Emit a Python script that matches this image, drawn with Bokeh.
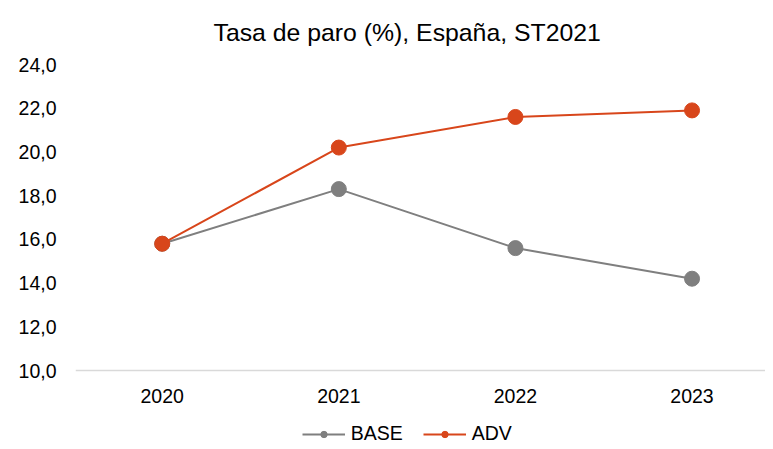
from bokeh.plotting import figure
from bokeh.models import Range1d, FixedTicker, CustomJSTickFormatter, Legend, LegendItem
from bokeh.embed import file_html
from bokeh.resources import INLINE

years = [2020, 2021, 2022, 2023]
base = [15.8, 18.3, 15.6, 14.2]
adv = [15.8, 20.2, 21.6, 21.9]
y_ticks = [10, 12, 14, 16, 18, 20, 22, 24]

GRAY = "#7F7F7F"
RED = "#D8461B"
FONT = "Liberation Sans"

# frame spans from the top border down to the canvas bottom; the x axis sits at y = 10
p = figure(width=765, height=445, output_backend="svg", toolbar_location=None,
           x_range=Range1d(2019.509, 2023.416), y_range=Range1d(6.569, 24),
           min_border_left=75, min_border_right=0, min_border_top=64, min_border_bottom=0)

p.title.text = "Tasa de paro (%), España, ST2021"
p.title.align = "left"
p.title.offset = 138
p.title.standoff = 34
p.title.vertical_align = "top"
p.title.text_font = FONT
p.title.text_font_size = "24.8px"
p.title.text_font_style = "normal"
p.title.text_color = "#000000"

p.outline_line_color = None
p.xgrid.grid_line_color = None
p.ygrid.grid_line_color = None

p.xaxis.fixed_location = 10
p.xaxis.ticker = FixedTicker(ticks=years)
p.xaxis.axis_line_color = "#D9D9D9"
p.xaxis.axis_line_width = 1.5
p.xaxis.major_tick_line_color = None
p.xaxis.minor_tick_line_color = None
p.xaxis.major_label_standoff = 12
p.xaxis.major_label_text_font = FONT
p.xaxis.major_label_text_font_size = "19.5px"
p.xaxis.major_label_text_color = "#000000"

p.yaxis.ticker = FixedTicker(ticks=y_ticks)
p.yaxis.formatter = CustomJSTickFormatter(code="return tick.toFixed(1).replace('.', ',');")
p.yaxis.axis_line_color = None
p.yaxis.major_tick_line_color = None
p.yaxis.minor_tick_line_color = None
p.yaxis.major_label_standoff = 13
p.yaxis.major_label_text_font = FONT
p.yaxis.major_label_text_font_size = "19.5px"
p.yaxis.major_label_text_color = "#000000"

lb = p.line(years, base, line_color=GRAY, line_width=2)
sb = p.scatter(years, base, size=10, fill_color=GRAY, line_color=GRAY)  # legend marker, hidden below
p.scatter(years, base, size=15, fill_color=GRAY, line_color=GRAY)
la = p.line(years, adv, line_color=RED, line_width=2)
sa = p.scatter(years, adv, size=10, fill_color=RED, line_color=RED)
p.scatter(years, adv, size=15, fill_color=RED, line_color=RED)

legend = Legend(items=[LegendItem(label="BASE", renderers=[lb, sb]),
                       LegendItem(label="ADV", renderers=[la, sa])],
                location=(226.7, 0), orientation="horizontal",
                glyph_width=43, glyph_height=16, label_height=16,
                label_standoff=6, spacing=20, padding=0, margin=0,
                border_line_color=None, background_fill_alpha=0,
                label_text_font=FONT, label_text_font_size="19.5px",
                label_text_color="#000000")
p.add_layout(legend, "center")

open("out.html", "w").write(file_html(p, INLINE))
